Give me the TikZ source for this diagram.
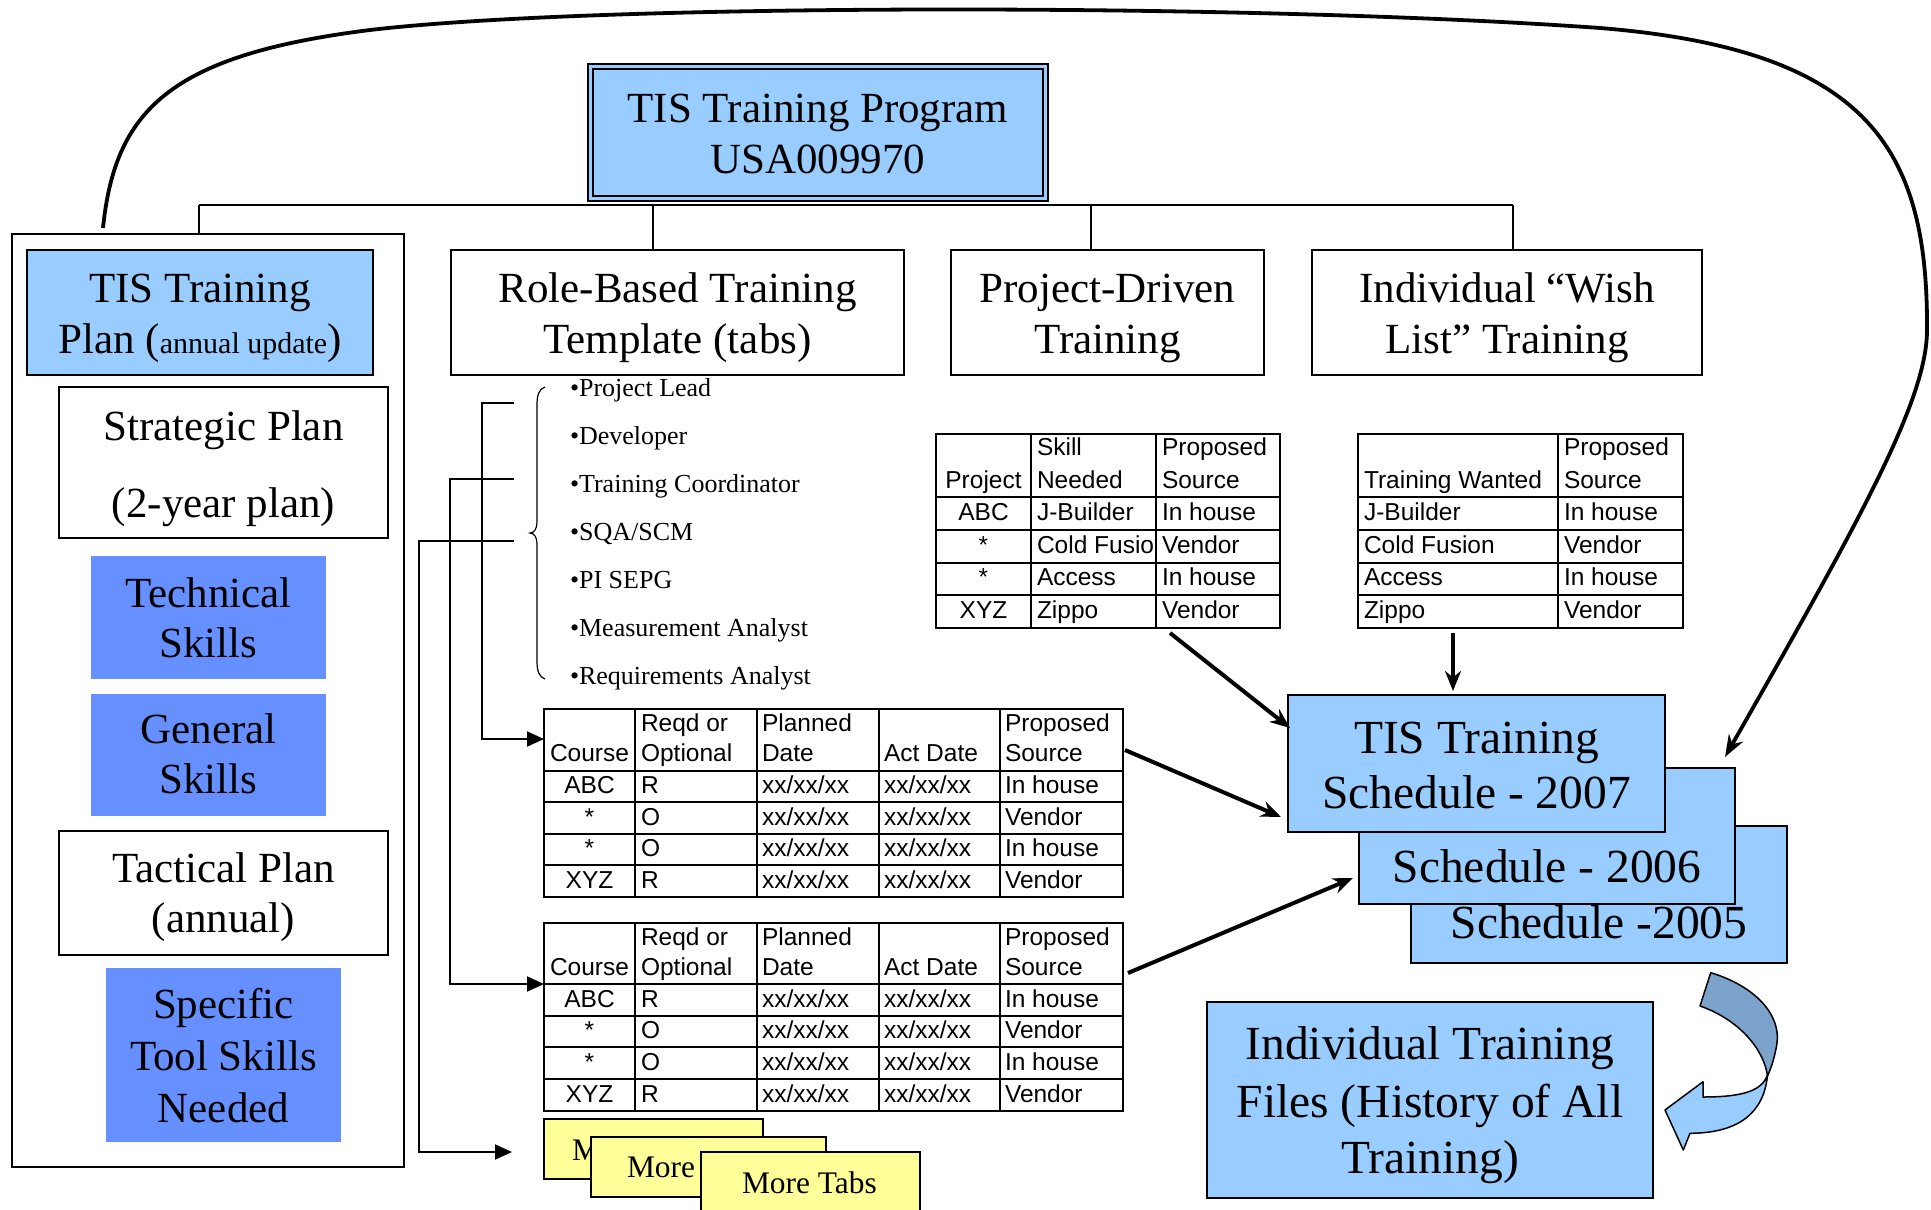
\documentclass[tikz,border=0pt]{standalone}
\usepackage{fontspec}
\setmainfont{Liberation Serif}
\newfontfamily\arialf{Liberation Sans}
\usetikzlibrary{arrows.meta,fit}
\definecolor{lblue}{HTML}{99CCFF}
\definecolor{mblue}{HTML}{6690FF}
\definecolor{yel}{HTML}{FFFF99}
\definecolor{dblue}{HTML}{7BA3CC}
\newcommand\fbig{\fontsize{43}{50}\selectfont}
\newcommand\fsch{\fontsize{47.5}{55}\selectfont}
\newcommand\frole{\fontsize{26}{30}\selectfont}
\newcommand\ftab{\arialf\fontsize{24.5}{28}\selectfont}
\newcommand\ftabs{\fontsize{31.4}{36}\selectfont}
% course table row: prefix, baseline, 5 cells
\newcommand\crow[7]{%
 \node[tc] (#1a) at (589.5,#2) {#3};
 \node[tw] (#1b) at (641,#2) {#4};
 \node[tw] (#1c) at (762,#2) {#5};
 \node[tw] (#1d) at (884,#2) {#6};
 \node[tw] (#1e) at (1005,#2) {#7};}
\newcommand\prow[5]{%
 \node[tc] (#1a) at (983.5,#2) {#3};
 \node[tw] (#1b) at (1037,#2) {#4};
 \node[tw] (#1c) at (1162,#2) {#5};}
\newcommand\wrow[4]{%
 \node[tw] (#1a) at (1364,#2) {#3};
 \node[tw] (#1b) at (1564,#2) {#4};}
\begin{document}
\begin{tikzpicture}[x=1pt,y=-1pt,
 bx/.style={draw=black, line width=2pt, inner sep=0pt, outer sep=0pt},
 tl/.style={anchor=base, inner sep=0pt, outer sep=0pt},
 tw/.style={anchor=base west, inner sep=0pt, outer sep=0pt, font=\ftab},
 tc/.style={anchor=base, inner sep=0pt, outer sep=0pt, font=\ftab},
 rl/.style={anchor=base west, inner sep=0pt, outer sep=0pt, font=\frole},
 gridl/.style={line width=2pt},
 conn/.style={line width=2pt},
 bracket/.style={line width=2pt, -{Triangle[length=17pt,width=15pt]}},
 fat/.style={line width=4pt, -{Stealth[length=20pt,width=16pt]}},
]
\useasboundingbox (0,0) rectangle (1931,1210);

% ---------- top box
\node[bx, fit={(588,64) (1048,201)}, fill=lblue, line width=2.6pt] (top) {};
\node[bx, fit={(593,69) (1043,196)}, line width=2.2pt] (topin) {};
\node[tl, font=\fbig] (top1) at (818,122) {TIS Training Program};
\node[tl, font=\fbig] (top2) at (818,173) {USA009970};

% ---------- second level boxes
\node[bx, fit={(12,234) (404,1167)}] (cont) {};
\node[bx, fit={(27,250) (373,375)}, fill=lblue] (plan) {};
\node[tl, font=\fbig] (plan1) at (200,302) {TIS Training};
\node[tl, font=\fbig] (plan2) at (200,353) {Plan ({\fontsize{30}{34}\selectfont annual update})};

\node[bx, fit={(451,250) (904,375)}] (rb) {};
\node[tl, font=\fbig] (rb1) at (677.5,302) {Role-Based Training};
\node[tl, font=\fbig] (rb2) at (677.5,353) {Template (tabs)};

\node[bx, fit={(951,250) (1264,375)}] (pd) {};
\node[tl, font=\fbig] (pd1) at (1107.5,302) {Project-Driven};
\node[tl, font=\fbig] (pd2) at (1107.5,353) {Training};

\node[bx, fit={(1312,250) (1702,375)}] (wl) {};
\node[tl, font=\fbig] (wl1) at (1507,302) {Individual “Wish};
\node[tl, font=\fbig] (wl2) at (1507,353) {List” Training};

% bus
\coordinate (b1) at (199,205);
\coordinate (b2) at (653,205);
\coordinate (b3) at (1091,205);
\coordinate (b4) at (1513,205);
\draw[conn] (b1) -- (b4);
\draw[conn] (b1) -- (b1 |- cont.north);
\draw[conn] (b2) -- (b2 |- rb.north);
\draw[conn] (b3) -- (b3 |- pd.north);
\draw[conn] (b4) -- (b4 |- wl.north);

% ---------- left column
\node[bx, fit={(59,387) (388,538)}] (strat) {};
\node[tl, font=\fbig] (strat1) at (223.5,440) {Strategic Plan};
\node[tl, font=\fbig] (strat2) at (223.5,517) {(2-year plan)};
\node[fill=mblue, inner sep=0pt, fit={(91,556) (326,679)}] (tech) {};
\node[tl, font=\fbig] (tech1) at (208.5,607) {Technical};
\node[tl, font=\fbig] (tech2) at (208.5,657) {Skills};
\node[fill=mblue, inner sep=0pt, fit={(91,694) (326,816)}] (gen) {};
\node[tl, font=\fbig] (gen1) at (208.5,743) {General};
\node[tl, font=\fbig] (gen2) at (208.5,793) {Skills};
\node[bx, fit={(59,831) (388,955)}] (tact) {};
\node[tl, font=\fbig] (tact1) at (223.5,882) {Tactical Plan};
\node[tl, font=\fbig] (tact2) at (223.5,932) {(annual)};
\node[fill=mblue, inner sep=0pt, fit={(106,968) (341,1142)}] (spec) {};
\node[tl, font=\fbig] (spec1) at (223.5,1018) {Specific};
\node[tl, font=\fbig] (spec2) at (223.5,1070) {Tool Skills};
\node[tl, font=\fbig] (spec3) at (223.5,1122) {Needed};

% ---------- role list
\node[rl] (r1) at (570,396) {•Project Lead};
\node[rl] (r2) at (570,444) {•Developer};
\node[rl] (r3) at (570,492) {•Training Coordinator};
\node[rl] (r4) at (570,540) {•SQA/SCM};
\node[rl] (r5) at (570,588) {•PI SEPG};
\node[rl] (r6) at (570,636) {•Measurement Analyst};
\node[rl] (r7) at (570,684) {•Requirements Analyst};
\draw[line width=1.2pt] (545,387) .. controls (539,389) and (537,395) .. (537,405) -- (537,522)
  .. controls (537,529) and (534,533) .. (530,533) .. controls (534,533) and (537,537) .. (537,544)
  -- (537,661) .. controls (537,671) and (539,677) .. (545,679);

% ---------- bracket connectors
\coordinate (l1s) at (514,403); \coordinate (l1e) at (544,739);
\coordinate (l2s) at (514,479); \coordinate (l2e) at (544,984);
\coordinate (l3s) at (514,541); \coordinate (l3e) at (512,1152);
\draw[bracket] (l1s) -- ++(-32,0) |- (l1e);
\draw[bracket] (l2s) -- ++(-64,0) |- (l2e);
\draw[bracket] (l3s) -- ++(-95,0) |- (l3e);

% ---------- course table 1
\node[bx, fit={(544,709) (1123,897)}, line width=2.4pt] (t1) {};
\foreach \x in {635,757,879,1000} \draw[gridl] (\x,709) -- (\x,897);
\foreach \y in {771,802,834,865} \draw[gridl] (544,\y) -- (1123,\y);
\node[tc] (t1h1) at (589.5,761) {Course};
\node[tw] (t1h2) at (641,731) {Reqd or};
\node[tw] (t1h3) at (641,761) {Optional};
\node[tw] (t1h4) at (762,731) {Planned};
\node[tw] (t1h5) at (762,761) {Date};
\node[tw] (t1h6) at (884,761) {Act Date};
\node[tw] (t1h7) at (1005,731) {Proposed};
\node[tw] (t1h8) at (1005,761) {Source};
\crow{t1r1}{793}{ABC}{R}{xx/xx/xx}{xx/xx/xx}{In house}
\crow{t1r2}{825}{*}{O}{xx/xx/xx}{xx/xx/xx}{Vendor}
\crow{t1r3}{856}{*}{O}{xx/xx/xx}{xx/xx/xx}{In house}
\crow{t1r4}{888}{XYZ}{R}{xx/xx/xx}{xx/xx/xx}{Vendor}

% ---------- course table 2
\node[bx, fit={(544,923) (1123,1111)}, line width=2.4pt] (t2) {};
\foreach \x in {635,757,879,1000} \draw[gridl] (\x,923) -- (\x,1111);
\foreach \y in {984,1016,1047,1079} \draw[gridl] (544,\y) -- (1123,\y);
\node[tc] (t2h1) at (589.5,975) {Course};
\node[tw] (t2h2) at (641,945) {Reqd or};
\node[tw] (t2h3) at (641,975) {Optional};
\node[tw] (t2h4) at (762,945) {Planned};
\node[tw] (t2h5) at (762,975) {Date};
\node[tw] (t2h6) at (884,975) {Act Date};
\node[tw] (t2h7) at (1005,945) {Proposed};
\node[tw] (t2h8) at (1005,975) {Source};
\crow{t2r1}{1007}{ABC}{R}{xx/xx/xx}{xx/xx/xx}{In house}
\crow{t2r2}{1038}{*}{O}{xx/xx/xx}{xx/xx/xx}{Vendor}
\crow{t2r3}{1070}{*}{O}{xx/xx/xx}{xx/xx/xx}{In house}
\crow{t2r4}{1102}{XYZ}{R}{xx/xx/xx}{xx/xx/xx}{Vendor}

% ---------- more tabs cards (stacked; only visible parts of the back labels)
\node[bx, fit={(544,1119) (763,1179)}, fill=yel] (card1) {};
\node[tw, font=\ftabs] (card1t) at (572,1160) {M};
\node[bx, fit={(591,1137) (826,1197)}, fill=yel] (card2) {};
\node[tw, font=\ftabs] (card2t) at (627,1177) {More};
\node[bx, fit={(701,1152) (920,1216)}, fill=yel] (card3) {};
\node[tw, font=\ftabs] (card3t) at (742,1193) {More Tabs};

% ---------- project table
\node[bx, fit={(936,434) (1280,628)}, line width=2.4pt] (pt) {};
\foreach \x in {1031,1156} \draw[gridl] (\x,434) -- (\x,628);
\foreach \y in {497,530,563,595} \draw[gridl] (936,\y) -- (1280,\y);
\node[tc] (pth1) at (983.5,488) {Project};
\node[tw] (pth2) at (1037,455) {Skill};
\node[tw] (pth3) at (1037,488) {Needed};
\node[tw] (pth4) at (1162,455) {Proposed};
\node[tw] (pth5) at (1162,488) {Source};
\prow{ptr1}{520}{ABC}{J-Builder}{In house}
\node[tc] (ptr2a) at (983.5,553) {*};
\begin{scope}
\clip (1031,530) rectangle (1156,563);
\node[tw] (ptr2b) at (1037,553) {Cold Fusion};
\end{scope}
\node[tw] (ptr2c) at (1162,553) {Vendor};
\prow{ptr3}{585}{*}{Access}{In house}
\prow{ptr4}{618}{XYZ}{Zippo}{Vendor}

% ---------- wish table
\node[bx, fit={(1358,434) (1683,628)}, line width=2.4pt] (wt) {};
\draw[gridl] (1558,434) -- (1558,628);
\foreach \y in {497,530,563,595} \draw[gridl] (1358,\y) -- (1683,\y);
\node[tw] (wth1) at (1364,488) {Training Wanted};
\node[tw] (wth2) at (1564,455) {Proposed};
\node[tw] (wth3) at (1564,488) {Source};
\wrow{wtr1}{520}{J-Builder}{In house}
\wrow{wtr2}{553}{Cold Fusion}{Vendor}
\wrow{wtr3}{585}{Access}{In house}
\wrow{wtr4}{618}{Zippo}{Vendor}

% ---------- schedules
\node[bx, fit={(1411,826) (1787,963)}, fill=lblue] (s05) {};
\node[tl, font=\fsch] (s05a) at (1599,938) {Schedule -2005};
\node[bx, fit={(1359,768) (1735,904)}, fill=lblue] (s06) {};
\node[tl, font=\fsch] (s06b) at (1547,882) {Schedule - 2006};
\node[bx, fit={(1288,695) (1665,832)}, fill=lblue] (s07) {};
\node[tl, font=\fsch] (s07a) at (1476.5,753) {TIS Training};
\node[tl, font=\fsch] (s07b) at (1476.5,808) {Schedule - 2007};

% ---------- individual training files
\node[bx, fit={(1207,1002) (1653,1198)}, fill=lblue] (itf) {};
\node[tl, font=\fsch] (itf1) at (1430,1059) {Individual Training};
\node[tl, font=\fsch] (itf2) at (1430,1117) {Files (History of All};
\node[tl, font=\fsch] (itf3) at (1430,1173) {Training)};

% ---------- curved block arrow
\draw[line width=1.5pt, fill=dblue, line join=round] (1710.7,972.7) .. controls (1755,986) and (1782,1015) .. (1776.7,1045)
  .. controls (1774,1060) and (1771,1068) .. (1767.5,1076)
  .. controls (1764,1050) and (1740,1020) .. (1700,1006) -- cycle;
\draw[line width=1.5pt, fill=lblue, line join=round] (1767.5,1075) .. controls (1762,1090) and (1745,1097) .. (1703,1097)
  -- (1703,1081.7) -- (1665,1110) -- (1683.3,1150) -- (1690,1133.3)
  .. controls (1740,1133) and (1764,1112) .. cycle;

% ---------- thick arrows into the schedule
\coordinate (a1s) at (1170,633); \coordinate (a1e) at (1290,728);
\coordinate (a2s) at (1453,633); \coordinate (a2e) at (1453,691);
\coordinate (a3s) at (1125,750); \coordinate (a3e) at (1281,817);
\coordinate (a4s) at (1128,973); \coordinate (a4e) at (1353,878);
\draw[fat] (a1s) -- (a1e);
\draw[fat] (a2s) -- (a2e);
\draw[fat] (a3s) -- (a3e);
\draw[fat] (a4s) -- (a4e);

% ---------- big loop arrow
\coordinate (cs) at (103,228); \coordinate (ce) at (1725,757);
\draw[line width=3.8pt, -{Stealth[length=22pt,width=16pt]}] (cs) .. controls (115,110) and (170,55) .. (370,30)
  .. controls (600,3) and (1250,3) .. (1600,28)
  .. controls (1870,50) and (1928,150) .. (1927,330)
  .. controls (1927,400) and (1860,520) .. (ce);
\end{tikzpicture}
\end{document}
